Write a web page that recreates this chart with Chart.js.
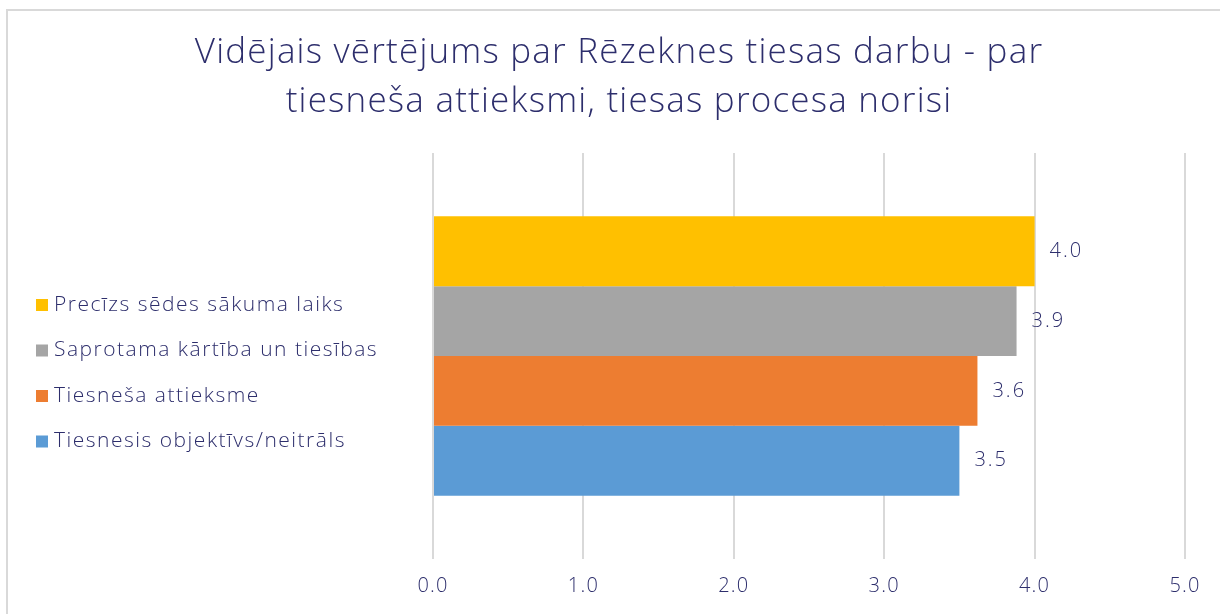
<!DOCTYPE html>
<html>
<head>
<meta charset="utf-8">
<script src="https://cdn.jsdelivr.net/npm/chart.js@4"></script>
<style>
  body { margin: 0; background: #fff; overflow: hidden; }
  #frame { position: absolute; left: 6px; top: 9px; width: 1300px; height: 700px;
           border-left: 2px solid #d9d9d9; border-top: 2px solid #d9d9d9; }
  #wrap { position: absolute; left: 18px; top: 0; width: 1202px; height: 614px; }
</style>
</head>
<body>
<div id="frame"></div>
<div id="wrap"><canvas id="grafico" width="1202" height="614"></canvas></div>
<script>
// Dados do gráfico
const titulo = ["Vidējais vērtējums par Rēzeknes tiesas darbu - par", "tiesneša attieksmi, tiesas procesa norisi"];
const categorias = [""];
const series = ["Precīzs sēdes sākuma laiks", "Saprotama kārtība un tiesības", "Tiesneša attieksme", "Tiesnesis objektīvs/neitrāls"];
const valores = [4.00, 3.88, 3.62, 3.50];
const cores = ["#FFC000", "#A5A5A5", "#ED7D31", "#5B9BD5"];
const ticksX = [0, 1, 2, 3, 4, 5];

const corTexto = "#2d2e6c";
const fonte = "'Open Sans', Lato, sans-serif";

// espaçamento entre letras (a fonte original é mais larga)
const espacamento = {
    id: 'espacamento',
    beforeDraw(chart) {
        chart.ctx.letterSpacing = '1.2px';
    }
};

// rótulos com o valor no fim de cada barra
const rotulos = {
    id: 'rotulos',
    afterDatasetsDraw(chart) {
        const ctx = chart.ctx;
        ctx.save();
        ctx.letterSpacing = '2px';
        ctx.font = "300 20px " + fonte;
        ctx.fillStyle = corTexto;
        ctx.textAlign = 'left';
        ctx.textBaseline = 'middle';
        chart.data.datasets.forEach((ds, i) => {
            const bar = chart.getDatasetMeta(i).data[0];
            ctx.fillText(ds.data[0].toFixed(1), bar.x + 15, bar.y);
        });
        ctx.restore();
    }
};

// legenda à esquerda
const legenda = {
    id: 'legenda',
    afterDraw(chart) {
        const ctx = chart.ctx;
        ctx.save();
        ctx.letterSpacing = '1.5px';
        ctx.font = "300 21px " + fonte;
        ctx.textAlign = 'left';
        ctx.textBaseline = 'middle';
        chart.data.datasets.forEach((ds, i) => {
            const y = 305 + i * 45.5;
            ctx.fillStyle = ds.backgroundColor;
            ctx.fillRect(18, y - 6, 12, 12);
            ctx.fillStyle = corTexto;
            ctx.fillText(ds.label, 36, y);
        });
        ctx.restore();
    }
};

new Chart(document.getElementById('grafico'), {
    type: 'bar',
    data: {
        labels: categorias,
        datasets: series.map((nome, i) => ({
            label: nome,
            data: [valores[i]],
            backgroundColor: cores[i],
            borderWidth: 0,
            categoryPercentage: 0.688,
            barPercentage: 1
        }))
    },
    options: {
        indexAxis: 'y',
        responsive: false,
        animation: false,
        layout: { padding: { left: 0, right: 0, top: 0, bottom: 1 } },
        plugins: {
            legend: { display: false },
            tooltip: { enabled: false },
            title: {
                display: true,
                text: titulo,
                color: corTexto,
                font: { family: fonte, size: 35, weight: '300', lineHeight: 1.4 },
                padding: { top: 29, bottom: 26 }
            }
        },
        scales: {
            x: {
                min: 0,
                max: 5,
                afterBuildTicks: (scale) => { scale.ticks = ticksX.map(v => ({ value: v })); },
                afterFit: (scale) => { scale.paddingRight = 35; },
                border: { display: false },
                grid: { color: '#d9d9d9', lineWidth: 2, drawTicks: false },
                ticks: {
                    color: corTexto,
                    font: { family: fonte, size: 20, weight: '300' },
                    padding: 15,
                    callback: (v) => Number(v).toFixed(1)
                }
            },
            y: {
                display: true,
                border: { display: false },
                grid: { display: false },
                ticks: { display: false },
                afterFit: (scale) => { scale.width = 415; }
            }
        }
    },
    plugins: [espacamento, rotulos, legenda]
});
</script>
</body>
</html>
